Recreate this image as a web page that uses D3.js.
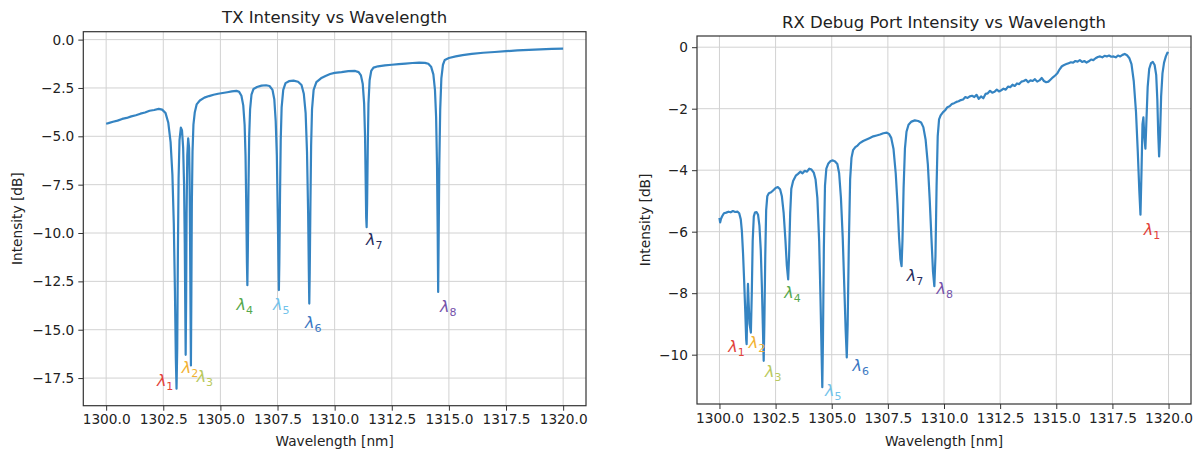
<!DOCTYPE html>
<html><head><meta charset="utf-8">
<script src="https://cdn.jsdelivr.net/npm/d3@7"></script>
<style>
html,body{margin:0;padding:0;background:#fff;}
svg{display:block;font-family:"DejaVu Sans",sans-serif;}
</style></head>
<body>
<svg id="chart" width="1198" height="453"></svg>
<script>
// ---------------- DATA ----------------
const txWavelength = [1300.00,1300.10,1300.30,1300.50,1300.70,1300.90,1301.10,1301.30,1301.50,1301.70,1301.90,1302.10,1302.30,1302.45,1302.60,1302.72,1302.82,1302.90,1302.96,1303.01,1303.05,1303.08,1303.11,1303.14,1303.17,1303.21,1303.27,1303.32,1303.37,1303.41,1303.44,1303.46,1303.48,1303.50,1303.52,1303.55,1303.59,1303.63,1303.65,1303.67,1303.69,1303.71,1303.73,1303.75,1303.78,1303.82,1303.88,1303.96,1304.10,1304.30,1304.50,1304.70,1304.90,1305.10,1305.30,1305.50,1305.70,1305.82,1305.92,1306.00,1306.06,1306.10,1306.13,1306.16,1306.18,1306.20,1306.23,1306.26,1306.30,1306.36,1306.45,1306.60,1306.80,1307.00,1307.15,1307.28,1307.36,1307.42,1307.47,1307.51,1307.54,1307.56,1307.58,1307.61,1307.64,1307.68,1307.75,1307.85,1308.00,1308.20,1308.40,1308.55,1308.65,1308.73,1308.79,1308.84,1308.87,1308.89,1308.91,1308.94,1308.97,1309.01,1309.08,1309.20,1309.40,1309.60,1309.80,1310.00,1310.30,1310.60,1310.90,1311.05,1311.15,1311.23,1311.29,1311.33,1311.36,1311.38,1311.40,1311.42,1311.45,1311.48,1311.53,1311.60,1311.70,1311.90,1312.20,1312.50,1312.80,1313.10,1313.40,1313.70,1313.95,1314.10,1314.22,1314.32,1314.39,1314.44,1314.48,1314.51,1314.53,1314.55,1314.58,1314.62,1314.67,1314.74,1314.82,1315.00,1315.30,1315.60,1316.00,1316.50,1317.00,1317.50,1318.00,1318.50,1319.00,1319.50,1320.00];
const txIntensity = [-4.35,-4.32,-4.25,-4.19,-4.10,-4.05,-3.97,-3.91,-3.83,-3.77,-3.68,-3.64,-3.58,-3.62,-3.80,-4.30,-5.30,-7.00,-9.50,-13.00,-16.50,-18.05,-16.00,-11.00,-7.20,-5.20,-4.55,-4.70,-5.60,-7.50,-10.50,-13.50,-16.30,-13.50,-9.00,-6.00,-5.10,-5.60,-7.00,-10.00,-13.50,-16.85,-13.00,-8.50,-5.80,-4.40,-3.75,-3.35,-3.15,-3.00,-2.92,-2.85,-2.80,-2.76,-2.72,-2.68,-2.65,-2.70,-2.90,-3.40,-4.40,-6.00,-8.50,-11.50,-12.70,-11.00,-7.50,-5.00,-3.60,-2.85,-2.55,-2.45,-2.38,-2.36,-2.40,-2.60,-3.10,-4.20,-6.00,-9.00,-11.50,-12.95,-11.50,-8.00,-5.20,-3.50,-2.60,-2.25,-2.15,-2.12,-2.18,-2.35,-2.80,-3.80,-5.80,-9.00,-12.00,-13.65,-12.00,-8.50,-5.50,-3.60,-2.60,-2.20,-2.00,-1.88,-1.78,-1.72,-1.68,-1.63,-1.62,-1.68,-1.85,-2.30,-3.30,-5.00,-7.50,-9.20,-9.70,-8.50,-5.50,-3.30,-2.10,-1.62,-1.45,-1.38,-1.33,-1.30,-1.27,-1.24,-1.21,-1.19,-1.20,-1.25,-1.40,-1.80,-2.60,-4.00,-6.50,-10.00,-13.05,-10.50,-6.50,-3.60,-2.00,-1.30,-1.05,-0.95,-0.87,-0.80,-0.74,-0.68,-0.64,-0.60,-0.56,-0.53,-0.50,-0.48,-0.47];

const rxWavelength = [1300.00,1300.03,1300.07,1300.12,1300.20,1300.30,1300.40,1300.50,1300.60,1300.70,1300.80,1300.88,1300.95,1301.00,1301.05,1301.10,1301.15,1301.19,1301.21,1301.24,1301.27,1301.30,1301.34,1301.40,1301.44,1301.48,1301.53,1301.58,1301.65,1301.72,1301.78,1301.84,1301.89,1301.93,1301.97,1302.00,1302.04,1302.08,1302.13,1302.20,1302.30,1302.40,1302.50,1302.60,1302.70,1302.78,1302.86,1302.94,1303.00,1303.06,1303.10,1303.15,1303.20,1303.28,1303.40,1303.50,1303.60,1303.70,1303.80,1303.90,1304.00,1304.10,1304.20,1304.28,1304.36,1304.44,1304.50,1304.55,1304.58,1304.61,1304.65,1304.70,1304.76,1304.85,1304.95,1305.05,1305.15,1305.25,1305.33,1305.41,1305.49,1305.56,1305.62,1305.67,1305.71,1305.76,1305.82,1305.88,1305.95,1306.05,1306.15,1306.25,1306.40,1306.55,1306.70,1306.85,1307.00,1307.15,1307.30,1307.45,1307.55,1307.65,1307.75,1307.85,1307.93,1308.00,1308.06,1308.11,1308.15,1308.20,1308.26,1308.33,1308.42,1308.55,1308.70,1308.85,1308.98,1309.08,1309.18,1309.28,1309.36,1309.44,1309.51,1309.57,1309.62,1309.67,1309.72,1309.78,1309.85,1309.95,1310.05,1310.15,1310.25,1310.35,1310.45,1310.55,1310.65,1310.75,1310.85,1310.95,1311.05,1311.15,1311.25,1311.35,1311.45,1311.55,1311.65,1311.75,1311.85,1311.95,1312.05,1312.15,1312.25,1312.35,1312.45,1312.55,1312.65,1312.75,1312.85,1312.95,1313.05,1313.15,1313.25,1313.35,1313.45,1313.55,1313.65,1313.75,1313.85,1313.95,1314.05,1314.15,1314.25,1314.35,1314.45,1314.55,1314.65,1314.75,1314.85,1314.95,1315.05,1315.15,1315.25,1315.35,1315.45,1315.55,1315.65,1315.75,1315.85,1315.95,1316.05,1316.15,1316.25,1316.35,1316.45,1316.55,1316.65,1316.75,1316.85,1316.95,1317.05,1317.15,1317.25,1317.35,1317.45,1317.55,1317.65,1317.75,1317.85,1317.95,1318.05,1318.15,1318.25,1318.35,1318.45,1318.55,1318.63,1318.70,1318.75,1318.80,1318.84,1318.88,1318.92,1318.97,1319.01,1319.07,1319.14,1319.22,1319.30,1319.38,1319.45,1319.50,1319.54,1319.58,1319.62,1319.67,1319.73,1319.80,1319.88,1319.95,1320.00];
const rxIntensity = [-5.55,-5.70,-5.58,-5.50,-5.40,-5.38,-5.35,-5.37,-5.33,-5.36,-5.35,-5.40,-5.60,-6.00,-6.70,-7.60,-8.60,-9.50,-9.66,-8.50,-7.70,-8.30,-9.00,-9.28,-8.00,-6.30,-5.50,-5.38,-5.36,-5.45,-5.80,-6.60,-7.80,-9.00,-10.20,-9.00,-6.80,-5.30,-4.85,-4.75,-4.72,-4.65,-4.58,-4.55,-4.62,-4.85,-5.40,-6.30,-7.10,-7.55,-6.80,-5.40,-4.60,-4.35,-4.18,-4.12,-4.05,-4.10,-4.02,-4.05,-3.95,-3.98,-4.08,-4.30,-4.90,-6.30,-8.20,-10.00,-11.06,-9.50,-6.50,-4.50,-3.95,-3.78,-3.70,-3.68,-3.72,-3.80,-4.10,-4.90,-6.20,-7.80,-9.20,-10.09,-9.00,-6.50,-4.30,-3.60,-3.35,-3.25,-3.20,-3.12,-3.05,-3.00,-2.95,-2.90,-2.87,-2.84,-2.80,-2.78,-2.82,-2.95,-3.30,-4.10,-5.10,-6.20,-6.90,-7.12,-6.30,-4.60,-3.30,-2.75,-2.52,-2.42,-2.38,-2.40,-2.45,-2.60,-3.00,-3.80,-4.90,-6.20,-7.30,-7.77,-6.80,-4.50,-2.90,-2.35,-2.22,-2.12,-2.05,-1.95,-1.92,-1.85,-1.82,-1.78,-1.76,-1.72,-1.70,-1.62,-1.65,-1.60,-1.58,-1.62,-1.55,-1.68,-1.60,-1.66,-1.52,-1.50,-1.42,-1.48,-1.45,-1.38,-1.44,-1.40,-1.35,-1.38,-1.28,-1.30,-1.22,-1.26,-1.18,-1.20,-1.12,-1.10,-1.06,-1.14,-1.08,-1.10,-1.04,-1.12,-1.08,-1.00,-1.10,-1.14,-1.12,-1.05,-0.98,-0.92,-0.85,-0.72,-0.62,-0.58,-0.55,-0.52,-0.49,-0.50,-0.45,-0.47,-0.42,-0.48,-0.45,-0.50,-0.46,-0.40,-0.42,-0.36,-0.32,-0.30,-0.33,-0.28,-0.30,-0.27,-0.31,-0.30,-0.33,-0.27,-0.30,-0.25,-0.22,-0.26,-0.35,-0.55,-1.10,-2.10,-3.40,-4.70,-5.45,-3.90,-2.50,-2.28,-2.90,-3.30,-2.50,-1.30,-0.70,-0.52,-0.48,-0.58,-0.90,-1.70,-2.80,-3.55,-2.90,-1.60,-0.85,-0.50,-0.30,-0.18,-0.20];

const xTicks = [1300, 1302.5, 1305, 1307.5, 1310, 1312.5, 1315, 1317.5, 1320];
const txYTicks = [0, -2.5, -5, -7.5, -10, -12.5, -15, -17.5];
const rxYTicks = [0, -2, -4, -6, -8, -10];

const txTitle = "TX Intensity vs Wavelength";
const rxTitle = "RX Debug Port Intensity vs Wavelength";
const xLabel = "Wavelength [nm]";
const yLabel = "Intensity [dB]";

// wavelength-channel annotations (label anchor in data units)
const txLabelIndex = ["1","2","3","4","5","6","7","8"];
const txLabelWl = [1302.22, 1303.31, 1303.96, 1305.71, 1307.30, 1308.70, 1311.37, 1314.61];
const txLabelDb = [-17.66, -16.99, -17.45, -13.72, -13.72, -14.64, -10.35, -13.81];
const rxLabelIndex = ["1","2","3","4","5","6","7","8","1"];
const rxLabelWl = [1300.39, 1301.31, 1302.03, 1302.89, 1304.70, 1305.93, 1308.34, 1309.67, 1318.90];
const rxLabelDb = [-9.76, -9.63, -10.57, -7.98, -11.17, -10.36, -7.44, -7.88, -5.94];
const channelColors = {"1":"#e2433b","2":"#f2b233","3":"#b9c95c","4":"#56a84c","5":"#72c2ea","6":"#3b78c2","7":"#262d5e","8":"#7452aa"};

// ---------------- DRAW ----------------
const svg = d3.select("#chart");
const lineColor = "#3584c2";

function drawPanel(o) {
  const [xmin, xmax] = d3.extent(o.wl);
  const [ymin, ymax] = d3.extent(o.db);
  const xm = (xmax - xmin) * 0.05, ym = (ymax - ymin) * 0.05;
  const x = d3.scaleLinear().domain([xmin - xm, xmax + xm]).range([o.left, o.right]);
  const y = d3.scaleLinear().domain([ymin - ym, ymax + ym]).range([o.bottom, o.top]);
  const g = svg.append("g");

  // grid
  g.append("g").selectAll("line").data(xTicks).join("line")
    .attr("x1", d => x(d)).attr("x2", d => x(d)).attr("y1", o.top).attr("y2", o.bottom)
    .attr("stroke", "#d2d2d2").attr("stroke-width", 1);
  g.append("g").selectAll("line").data(o.yTicks).join("line")
    .attr("y1", d => y(d)).attr("y2", d => y(d)).attr("x1", o.left).attr("x2", o.right)
    .attr("stroke", "#d2d2d2").attr("stroke-width", 1);

  // line
  const pts = o.wl.map((w, i) => [w, o.db[i]]);
  g.append("path").datum(pts)
    .attr("d", d3.line().x(d => x(d[0])).y(d => y(d[1])))
    .attr("fill", "none").attr("stroke", lineColor).attr("stroke-width", 2.2)
    .attr("stroke-linejoin", "round");

  // axes
  const xAxis = d3.axisBottom(x).tickValues(xTicks).tickFormat(d3.format(".1f")).tickSizeOuter(0).tickSize(5).tickPadding(4);
  const yAxis = d3.axisLeft(y).tickValues(o.yTicks).tickFormat(d3.format(o.yFmt)).tickSizeOuter(0).tickSize(5).tickPadding(4);
  const gx = g.append("g").attr("transform", `translate(0,${o.bottom})`).call(xAxis);
  const gy = g.append("g").attr("transform", `translate(${o.left},0)`).call(yAxis);
  [gx, gy].forEach(a => {
    a.select(".domain").remove();
    a.selectAll("line").attr("stroke", "#333");
    a.selectAll("text").attr("fill", "#222").style("font-size", "13.7px").style("font-family", "DejaVu Sans");
  });

  // frame
  g.append("rect").attr("x", o.left).attr("y", o.top)
    .attr("width", o.right - o.left).attr("height", o.bottom - o.top)
    .attr("fill", "none").attr("stroke", "#333").attr("stroke-width", 1.2);

  // titles & labels
  const cx = (o.left + o.right) / 2;
  g.append("text").attr("x", cx).attr("y", o.titleY).attr("text-anchor", "middle")
    .style("font-size", "16.5px").attr("fill", "#222").text(o.title);
  g.append("text").attr("x", cx).attr("y", 446).attr("text-anchor", "middle")
    .style("font-size", "13.7px").attr("fill", "#222").text(xLabel);
  g.append("text").attr("transform", `translate(${o.yLabelX},${(o.top + o.bottom) / 2}) rotate(-90)`)
    .attr("text-anchor", "middle").style("font-size", "13.7px").attr("fill", "#222").text(yLabel);

  // channel annotations
  o.labIdx.forEach((k, i) => {
    const t = g.append("text").attr("x", x(o.labWl[i])).attr("y", y(o.labDb[i]) + 5)
      .attr("fill", channelColors[k]);
    t.append("tspan").style("font-size", "16px").style("font-style", "italic").text("λ");
    t.append("tspan").attr("dy", 4).style("font-size", "11px").text(k);
  });
}

drawPanel({
  wl: txWavelength, db: txIntensity, yTicks: txYTicks, yFmt: ".1f",
  left: 83.3, right: 586, top: 31.7, bottom: 405.7, titleY: 23, yLabelX: 22,
  title: txTitle, labIdx: txLabelIndex, labWl: txLabelWl, labDb: txLabelDb
});
drawPanel({
  wl: rxWavelength, db: rxIntensity, yTicks: rxYTicks, yFmt: "d",
  left: 697, right: 1191, top: 36, bottom: 404, titleY: 28, yLabelX: 650,
  title: rxTitle, labIdx: rxLabelIndex, labWl: rxLabelWl, labDb: rxLabelDb
});
</script>
</body></html>
